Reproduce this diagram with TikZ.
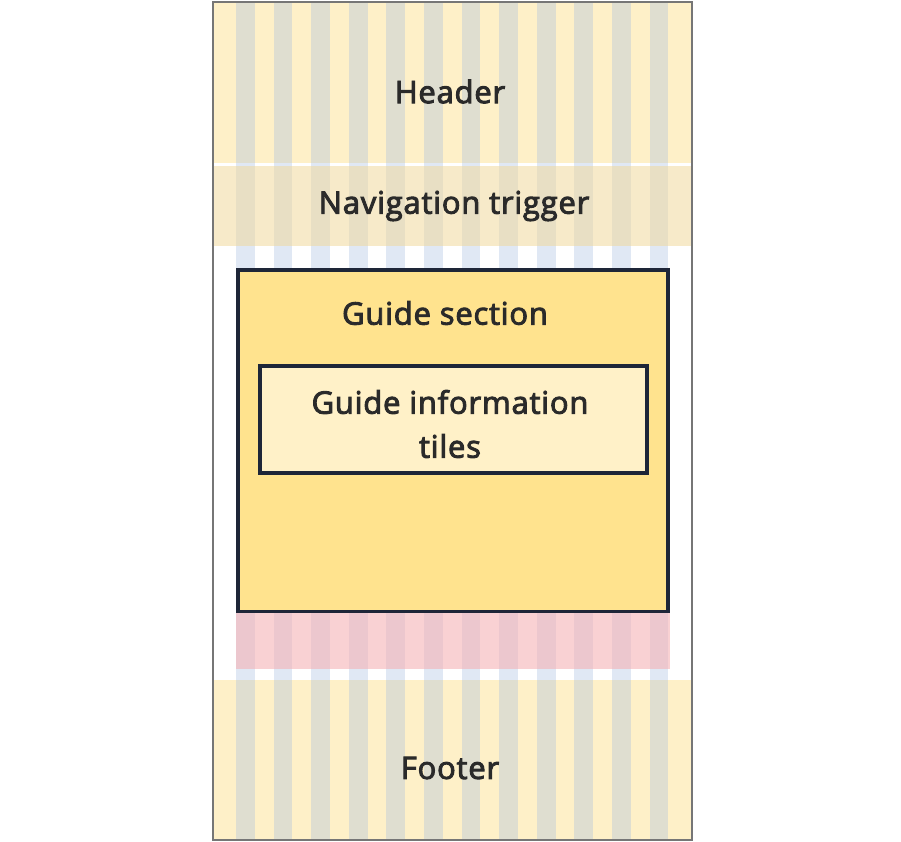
\documentclass[tikz,border=0pt]{standalone}
\usepackage{fontspec}
\newfontfamily\labelfont{Open Sans}[BoldFont={Open Sans},BoldFeatures={FakeBold=3},LetterSpace=2.5]
\definecolor{headyellow}{RGB}{254,240,200}
\definecolor{navbeige}{RGB}{240,214,148}
\definecolor{gridblue}{RGB}{166,189,224}
\definecolor{pinkband}{RGB}{245,176,179}
\definecolor{guideyellow}{RGB}{255,227,142}
\definecolor{tileyellow}{RGB}{255,241,200}
\definecolor{boxnavy}{RGB}{30,38,56}
\definecolor{framegray}{RGB}{118,118,118}
\definecolor{labelgray}{RGB}{42,42,42}
\tikzset{
  label/.style={text=labelgray,font=\labelfont\bfseries\fontsize{31}{44}\selectfont,inner sep=0pt},
  region/.style={draw=boxnavy,line width=3.5pt},
}
\begin{document}
\begin{tikzpicture}[x=1pt,y=-1pt]
      \useasboundingbox (0,0) rectangle (901,842);

      \fill[headyellow] (212,2) rectangle (692,163.5);
      \fill[headyellow] (212,679.5) rectangle (692,840);

      \foreach \i in {0,1,...,11}
        \fill[gridblue,opacity=0.35] ({236+\i*37.6},2) rectangle ++(18.8,838);

      \fill[navbeige,opacity=0.5] (213,166) rectangle (692,245.5);
      \fill[pinkband,opacity=0.58] (236,612) rectangle (669.5,669);

      \draw[region,fill=guideyellow] (237.75,269.75) rectangle (668,611.25);
      \draw[region,fill=tileyellow] (260,366) rectangle (647,473);

      \draw[framegray,line width=1.8pt] (213,2) rectangle (692,840);

      \node[label] (header) at (450,91.5) {Header};
      \node[label] (nav) at (454,206) {Navigation trigger};
      \node[label] (guide) at (445,313) {Guide section};
      \node[label,align=center] (tiles) at (450,424) {Guide information\\tiles};
      \node[label] (footer) at (450,768) {Footer};
    \end{tikzpicture}
\end{document}
